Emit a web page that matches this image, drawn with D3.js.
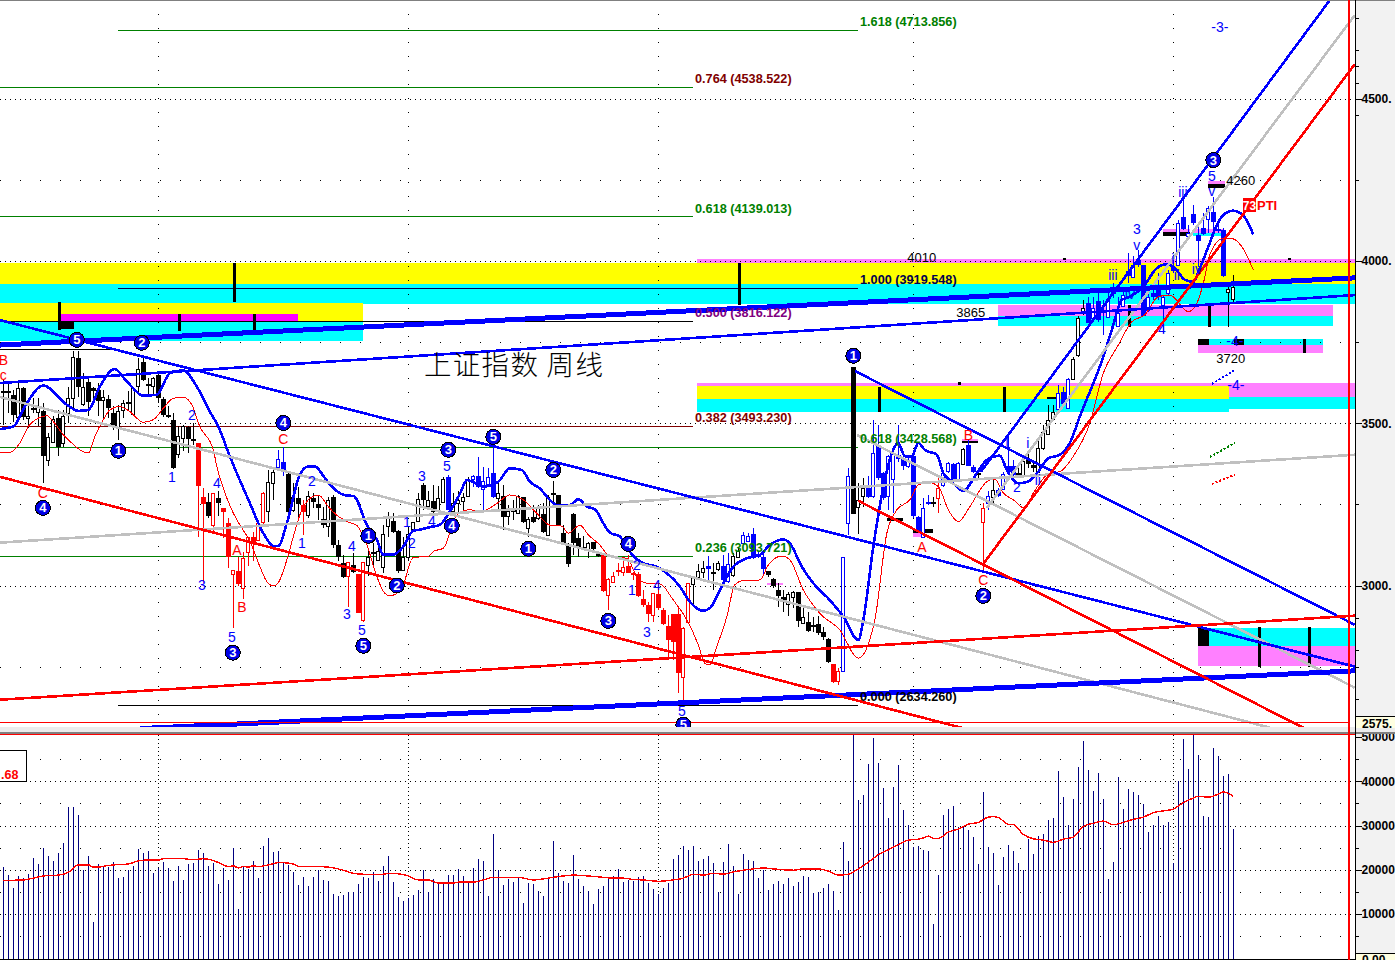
<!DOCTYPE html>
<html><head><meta charset="utf-8">
<script src="https://cdn.jsdelivr.net/npm/d3@7/dist/d3.min.js"></script>
<style>html,body{margin:0;padding:0;background:#fff;overflow:hidden}svg{display:block}</style>
</head><body><div id="chart"></div>
<script>
const opens=[3598,3598,3588,3521,3610,3516,3546,3533,3538,3387,
3444,3516,3439,3534,3579,3701,3562,3627,3608,3603,
3572,3574,3531,3490,3541,3564,3528,3615,3690,3620,
3615,3649,3574,3525,3511,3408,3452,3488,3452,3439,
3272,3257,3185,3269,3240,3192,3036,3046,2992,3103,
3151,3143,3197,3228,3315,3364,3382,3344,3233,3269,
3249,3218,3269,3252,3204,3184,3274,3125,3069,3028,
3064,3036,2892,3062,3103,3077,3056,3182,3199,3169,
3050,3087,3172,3197,3310,3243,3259,3231,3259,3334,
3228,3254,3261,3276,3328,3337,3299,3310,3346,3269,
3276,3217,3233,3225,3272,3176,3210,3207,3220,3158,
3286,3279,3161,3127,3219,3145,3120,3112,3133,3099,
3094,2969,3010,3048,3043,3060,3038,3036,2957,2940,
2909,2974,2925,2875,2912,2912,2717,2887,3004,3027,
3043,3061,3042,3050,3060,3012,3032,3086,3132,3140,
3159,3096,3089,3044,3019,2986,2966,2942,2966,2979,
2887,2889,2878,2881,2856,2835,2757,2707,2735,3194,
3673,3241,3274,3300,3274,3434,3346,3274,3328,3403,
3392,3369,3398,3211,3151,3256,3256,3272,3308,3354,
3375,3326,3375,3434,3365,3346,3195,3254,3274,3295,
3298,3369,3367,3347,3341,3389,3372,3348,3423,3469,
3513,3543,3596,3546,3637,3711,3844,3870,3824,3877,
3849,3826,3906,3798,3860,3970,3952,4003,3988,3847,
3901,3911,3862,3901,3983,3988,4135,4075,4145,4080,
4101,4129,4152,4100,4094,3904,3882];
const closes=[3593,3593,3526,3610,3519,3523,3541,3549,3398,3459,
3514,3426,3521,3579,3704,3613,3613,3567,3598,3570,
3582,3546,3490,3539,3562,3560,3608,3667,3632,3617,
3639,3579,3524,3522,3362,3462,3490,3452,3449,3308,
3251,3213,3285,3254,3226,3087,3048,3004,3084,3149,
3131,3194,3285,3318,3349,3389,3356,3228,3272,3251,
3228,3277,3257,3238,3185,3264,3125,3089,3026,3071,
3041,2915,3072,3087,3100,3105,3158,3208,3166,3046,
3089,3158,3195,3266,3264,3262,3225,3269,3329,3233,
3254,3262,3272,3327,3338,3305,3323,3333,3272,3284,
3212,3231,3231,3276,3197,3204,3197,3238,3164,3274,
3284,3186,3130,3065,3132,3118,3114,3132,3112,3091,
2983,3019,3030,3042,3058,3040,3032,2969,2940,2911,
2976,2930,2881,2832,2827,2729,2868,3007,3027,3046,
3055,3050,3040,3070,3017,3065,3091,3106,3156,3154,
3084,3087,3051,3033,2997,2969,2950,2974,2981,2892,
2904,2861,2871,2855,2842,2765,2704,2738,3087,3338,
3220,3262,3300,3272,3408,3331,3269,3398,3408,3390,
3367,3387,3213,3166,3240,3253,3253,3302,3346,3379,
3326,3377,3420,3369,3351,3342,3238,3277,3295,3277,
3343,3351,3341,3345,3385,3375,3362,3423,3472,3511,
3534,3593,3559,3636,3698,3824,3856,3810,3854,3818,
3839,3882,3901,3839,3895,3954,3988,3988,3831,3888,
3890,3888,3888,3962,3970,4118,4098,4085,4116,4063,
4082,4162,4121,4096,3954,3913,3919];
const highs=[3634,3623,3603,3623,3613,3562,3577,3577,3562,3469,
3521,3541,3541,3613,3723,3723,3654,3644,3613,3623,
3603,3588,3552,3557,3572,3598,3613,3701,3706,3639,
3644,3654,3582,3552,3531,3492,3495,3492,3500,3439,
3300,3285,3285,3290,3240,3208,3048,3089,3102,3151,
3166,3197,3287,3356,3362,3418,3428,3346,3315,3305,
3264,3290,3285,3279,3243,3274,3279,3141,3095,3071,
3100,3036,3072,3115,3131,3131,3187,3225,3223,3172,
3151,3182,3197,3285,3315,3290,3310,3308,3334,3341,
3285,3290,3286,3335,3341,3397,3366,3361,3423,3315,
3310,3248,3264,3279,3274,3212,3248,3248,3253,3279,
3322,3279,3186,3130,3222,3161,3153,3135,3135,3104,
3094,3022,3043,3068,3079,3094,3043,3043,2986,2950,
2978,3007,2930,2909,2912,2930,2871,3007,3027,3066,
3074,3091,3068,3074,3094,3099,3099,3120,3166,3161,
3176,3104,3104,3046,3022,3007,2986,2981,2984,2981,
2935,2919,2904,2906,2873,2837,2757,2745,3087,3362,
3673,3315,3331,3336,3511,3495,3351,3403,3418,3495,
3408,3398,3398,3213,3269,3279,3274,3336,3356,3382,
3377,3382,3423,3449,3372,3362,3254,3290,3328,3300,
3351,3459,3387,3367,3398,3418,3387,3459,3495,3557,
3557,3618,3613,3639,3705,3829,3880,3890,3890,3901,
3880,3901,3931,3890,3921,4024,4014,4034,3988,3921,
3931,3962,3895,3972,4019,4127,4198,4111,4173,4116,
4147,4168,4198,4127,4101,3936,3957];
const lows=[3495,3531,3505,3511,3511,3485,3531,3490,3315,3369,
3439,3398,3428,3500,3541,3582,3552,3521,3562,3521,
3511,3516,3480,3449,3516,3541,3521,3588,3629,3588,
3588,3562,3519,3516,3360,3394,3413,3408,3433,3151,
3007,3208,3166,3213,3146,3054,2869,2997,2958,3059,
3074,3136,3184,3197,3264,3364,3338,3223,3228,3202,
3156,3208,3238,3202,3177,3151,3115,3074,3023,2935,
3038,2915,2889,3028,3059,3074,3038,3151,3161,3038,
3048,3079,3166,3195,3233,3238,3221,3223,3254,3233,
3218,3228,3233,3272,3305,3299,3228,3305,3269,3233,
3171,3186,3202,3222,3194,3151,3192,3202,3161,3156,
3248,3183,3125,3056,3094,3089,3109,3084,3109,3087,
2981,2925,3007,3029,3029,3038,3017,2966,2935,2887,
2889,2925,2878,2771,2771,2668,2637,2884,2940,3022,
3022,3017,2986,3046,3007,3007,3027,3084,3128,3135,
3081,3084,3036,3027,2991,2935,2919,2906,2930,2873,
2881,2858,2858,2848,2832,2762,2699,2694,2735,3156,
3220,3158,3243,3269,3269,3326,3264,3233,3223,3382,
3356,3362,3208,3161,3146,3249,3243,3223,3305,3346,
3321,3321,3372,3367,3346,3326,3048,3233,3254,3274,
3295,3346,3326,3336,3336,3362,3351,3346,3418,3464,
3511,3541,3552,3544,3634,3705,3834,3808,3818,3813,
3772,3824,3885,3796,3860,3931,3947,3983,3829,3844,
3880,3880,3777,3895,3962,3985,4096,4070,4111,3983,
4080,4085,4085,4085,3952,3796,3875];
const waveRuns=[[0,'k'],[39,'r'],[41,'k'],[42,'r'],[43,'k'],[44,'r'],[53,'k'],[55,'b'],[57,'k'],[60,'r'],[61,'k'],[69,'r'],[70,'k'],[71,'r'],[73,'k'],[89,'b'],[90,'k'],[94,'b'],[99,'k'],[120,'r'],[138,'k'],[141,'b'],[142,'k'],[144,'b'],[146,'k'],[148,'b'],[153,'k'],[166,'r'],[168,'b'],[170,'k'],[173,'b'],[186,'k'],[187,'r'],[188,'b'],[192,'k'],[193,'b'],[195,'k'],[196,'r'],[197,'b'],[198,'k'],[199,'b'],[203,'k'],[211,'b'],[214,'k'],[217,'b'],[245,'k']];
const volumes=[20700,18900,15900,18600,18200,19100,22700,21400,25000,23200,22000,23800,26100,34200,34200,32400,20000,23200,8300,21400,20700,20700,21800,18200,18400,20000,20900,24700,23800,24300,19300,20500,21800,20500,17500,20900,17700,21400,21600,24500,23800,20900,21600,16800,20500,17700,25000,11200,20700,20200,22000,18200,25400,27200,24100,24300,21800,21100,19500,16600,18400,16400,18400,20000,17700,17500,14600,14100,14400,15000,15000,16800,18400,18200,19500,17500,20900,23200,17300,13900,13000,13700,14400,15500,20000,15000,18000,17300,17300,18900,18900,20200,
18600,17100,20500,22500,22000,14100,28100,20000,16600,18000,17300,18200,12600,17100,16800,15300,14100,18400,26500,19300,17500,17100,23400,18000,16400,15300,12300,15700,16400,18000,18600,20200,17300,17700,17500,18400,18600,17100,15700,14600,15900,17100,22500,23400,25400,24500,25400,22000,22500,23200,21600,15000,21800,25900,20900,14600,23600,22300,22000,18200,20000,15500,16800,17500,16800,18200,16400,17300,18600,18400,14800,15000,15900,16800,15300,11000,26300,22000,50700,35800,36900,43900,49800,44100,38500,31700,38700,43700,33500,30200,25200,25400,
24500,24300,7800,18900,32400,33800,34400,29700,29700,29000,27400,21400,37600,25200,23800,16600,22900,25600,24300,21600,20000,27000,23600,27700,28100,31300,31700,42300,36500,30200,36000,43200,49100,42600,37800,41900,36000,18000,21800,41000,33800,38300,37600,36900,34900,28600,30200,32200,30200,30800,21600,40100,49600,42800,50700,45900,32200,32000,47500,45700,41200,41700,29200];
const volMaBars=[0,4,6,8,11,13,15,17,18,19,20,22,25,27,29,31,32,35,38,40,42,44,45,46,47,48,49,50,51,53,55,56,58,59,61,65,68,70,72,76,77,78,81,83,85,87,90,91,94,96,98,103,106,110,112,114,117,120,122,124,126,128,131,134,136,138,140,142,144,146,148,150,152,154,158,160,163,165,167,169,171,173,175,177,179,181,183,184,185,186,187,189,191,193,195,197,198,199,201,202,204,206,208,210,212,214,216,218,220,222,224,226,228,230,232,234,236,238,239,241,243,244,246];
const volMaValues=[17600,17700,18100,18600,18800,19400,21100,21100,20600,20600,20800,21100,21300,22000,22200,22200,22500,22600,22300,22500,22100,21100,20700,20900,20400,20800,20600,20900,20700,21100,21600,21600,21300,20800,20800,20600,19900,19200,19000,19000,19200,19200,18600,17700,17700,17000,17000,17200,17200,17700,18300,18300,17700,18300,18600,18800,18600,18300,18100,18100,17800,17700,17400,17700,18100,19000,18800,19200,19000,19500,19900,20200,20400,20200,19900,20200,20200,19700,18800,19000,20200,21700,23400,24500,25700,26700,26900,27200,27600,27100,27100,28500,29200,30300,30700,31900,32000,31800,30300,30200,28000,27000,26700,26200,26900,27400,29800,30500,31000,30200,30700,31400,31900,32900,33300,33700,35200,36200,36600,36400,37100,37600,36600];
const blueMaBars=[-0.7,2,4.3,8,12.7,15,17,19.3,22.3,24.7,28,30.7,33.3,36,38.7,41.3,43,45.3,49.3,52,54,55,56.7,59.3,61,62.3,64.3,66,68.7,70,72.7,74.7,76,78,80,82,83.3,85.3,87.3,89.3,91.3,92.7,96,99,101.3,103.7,105.3,107.3,109.3,110.7,113.3,115,116.7,118.3,120,121.3,123.3,125.3,128,130.7,132.7,135.3,137.3,140,141.3,144,146,148.7,151.3,153.3,156,157.3,159.7,162,165.3,168,171,172,174,176.3,177.7,179,180.3,181.7,183,184.3,186.7,188,189.3,192,194.7,196.7,199.3,200.7,203,205,207,209,211.3,213.3,215.3,220,221.7,223.7,225.3,228,230.7,232.7,234.3,236.3,238,239.3,241,242.7,244,246,247.7,250];
const blueMaValues=[3482,3490,3552,3616,3557,3538,3541,3613,3667,3629,3585,3588,3654,3663,3613,3536,3490,3398,3254,3161,3122,3122,3192,3341,3367,3367,3331,3300,3277,3276,3187,3141,3095,3095,3120,3169,3172,3180,3187,3228,3282,3325,3305,3320,3361,3356,3320,3299,3264,3248,3248,3266,3243,3235,3192,3163,3151,3104,3068,3058,3038,2997,2950,2922,2930,3007,3058,3084,3094,3125,3142,3130,3058,3007,2955,2904,2832,2894,3120,3326,3408,3439,3398,3398,3439,3418,3403,3346,3326,3292,3346,3387,3400,3356,3315,3321,3351,3392,3403,3439,3521,3705,3788,3880,3890,3921,3978,3990,3978,3942,3936,3978,4044,4111,4142,4155,4145,4082];
const redMaBars=[-0.7,1.3,3.3,5,7,8.7,10,12,13.7,15.3,17,18.3,20,21.3,23.3,25.3,28,30,32,34,36,37.7,39.3,42,42.7,44,46,47.3,49.3,51.3,52.7,54,55,56.7,58,59.7,61,63,65,66,68.7,70.7,72.7,74.7,76,77.3,79.7,82,85,86,88,90.7,93,96,98.7,101.3,104,106.7,109.3,111.7,113,115.3,117,119.3,121.3,124.7,126.7,128.7,131.3,134,136.7,139,140.3,141.3,142.7,144.7,146.3,148,151.3,153,155.7,157.3,160,163.3,167.3,171,174.3,176.7,178.7,181.3,183,185,187,189,191,193.3,196.7,198.3,200,202,204.3,206,209.3,211.3,214,217.3,220,223,225.7,228.3,231,233.3,237,238.7,240,241.3,244,246,247.7,250];
const redMaValues=[3410,3410,3439,3490,3516,3523,3505,3464,3439,3418,3408,3459,3511,3541,3552,3536,3503,3511,3546,3577,3580,3557,3490,3418,3367,3300,3223,3187,3136,3059,3012,2999,3009,3079,3151,3233,3264,3279,3243,3226,3197,3185,3125,3028,2982,2968,2992,3087,3089,3105,3115,3217,3233,3231,3253,3279,3264,3222,3186,3183,3161,3186,3156,3125,3089,3084,3027,3007,3005,2955,2894,2817,2760,2755,2812,2904,3002,3015,3017,3063,3091,3079,2986,2914,2863,2776,2894,3161,3233,3264,3310,3318,3305,3233,3197,3243,3320,3328,3285,3264,3238,3285,3346,3351,3398,3500,3654,3741,3813,3834,3890,3895,3844,3870,3931,4019,4070,4068,4044,3972];
const fibNames=['1.618','0.764','0.618','1.000','0.500','0.382','0.618','0.236','0.000'];
const fibPrices=[4713.856,4538.522,4139.013,3919.548,3816.122,3493.230,3428.568,3093.721,2634.260];
const fibTones=['g','g','g','n','k','m','g','g','k'];
const fibTextTones=['g','m','g','n','p','m','g','g','k'];
const fibStarts=[23,-0.7,-0.7,23,-0.7,-0.7,-0.7,-0.7,23];
const fibEnds=[171,138,138,171,138,138,171,138,171];
const trendKinds=['B','B','b','b','b','b','s','s','s','s','r','r','r','r'];
const trendBar1=[-0.7,27.3,-0.7,-0.7,170.3,195.5,-0.7,-0.7,170.7,196.7,-0.7,-0.7,171,196];
const trendVal1=[3741,2559,3624,3818,3661,3350,3132,3581,3464,3239,3335,2648,3261,3067];
const trendBar2=[270.3,270.3,270.3,270.3,270.3,265.3,270.3,253.3,270.3,270.3,192.3,270.3,260.3,270.3];
const trendVal2=[3948,2737,3895,2750,2879,4804,3403,2562,2685,4758,2559,2907,2559,4607];
const zoneTones=['y','c','p','y','c','m','p','c','c','p','p','y','c','p','c','c','p','p','c','k','k','k','k','k','k','k','k','k','k','p','p','p','p','p','k'];
const zoneBar1=[-0.7,-0.7,138.7,-0.7,-0.7,11,199,199,239,239,138.7,138.7,138.7,245.1,245.1,239,239,238,238,11,239,246.1,239,232,241,176.7,182,191.7,208.7,241,232,182,191.7,152.7,-0.7];
const zoneBar2=[270.3,270.3,270.3,72,72,59,266,266,264,264,245.1,245.1,245.1,270.3,270.3,270.3,270.3,244,244,14.1,241.1,248.1,241.1,237.3,244.3,180,186,195,211.3,244.3,237.3,184,195,156,21.5];
const zoneTop=[3994,3929,4006,3871,3812,3837,3865,3831,3760,3741,3624,3615,3575,3624,3581,2870,2814,4099,4087,3812,3760,3760,2870,4089,4237,3209,3175,3446,3581,4247,4099,3162,3452,3008,3729];
const zoneBottom=[3929,3868,3994,3812,3753,3815,3831,3800,3741,3717,3615,3575,3535,3581,3544,2814,2753,4087,4077,3791,3741,3741,2814,4077,4225,3199,3162,3440,3575,4237,4089,3150,3446,3002,3725];
const stickBars=[46,147,11,35,50,175,200,225,241,260,251,261,191,212,257];
const stickTop=[3994,3994,3874,3837,3837,3612,3612,3865,3865,3760,2873,2873,3627,4010,4010];
const stickBottom=[3874,3865,3788,3785,3785,3535,3535,3797,3797,3717,2750,2750,3618,4003,4003];
const circleTexts=['5','2','1','4','4','3','5','1','2','3','4','5','2','1','3','4','5','1','2','3'];
const circleBars=[14.7,27.7,23,7.9,56,45.9,72,73,78.7,89,89.7,98,110,105,121,125,136,170,196,242];
const circleVals=[3757,3748,3415,3239,3501,2793,2814,3153,3000,3418,3184,3458,3356,3113,2891,3128,2571,3708,2968,4311];
const blueTexts=['1','2','3','4','5','2','1','3','4','5','3','5','1','2','4','2','1','4','3','5','i','ii','2','1','3','v','iii','iii','i','ii','iv','iv','4','5','v','-4-','-4-','-3-'];
const blueBars=[33.7,37.7,39.7,42.7,45.7,61.7,59.7,68.7,69.7,71.7,83.7,88.7,80.7,81.7,85.7,126.7,125.7,130.7,128.7,135.7,204.9,206.9,202.7,200.7,226.7,226.7,221.9,235.9,233.9,234.7,238.7,225.3,231.7,241.7,241.7,246.3,246.5,243.3];
const blueVals=[3335,3526,3002,3316,2842,3323,3132,2913,3122,2864,3338,3369,3196,3132,3199,3064,2987,3002,2857,2614,3440,3326,3304,3440,4099,4049,3957,4213,4006,3957,3975,3898,3791,4262,4216,3754,3618,4721];
const redTexts=['B','c','C','C','A','B','B','A','C'];
const redBars=[0,0,7.9,56,46.7,47.7,193,183.7,196];
const redVals=[3695,3649,3286,3452,3110,2934,3464,3119,3018];
const blackTexts=['4260','4010','3865','3720'];
const blackBars=[247.5,183.7,193.5,245.5];
const blackVals=[4250,4012,3843,3701];
const hatchTones=['b','g','r'];
const hatchBar1=[241.7,241.3,241.7];
const hatchVal1=[3621,3396,3313];
const hatchBar2=[246.3,246.3,246.3];
const hatchVal2=[3664,3439,3341];
const priceTicks=[4500,4000,3500,3000];
const priceMinor=[4750,4650,4600,4550,4450,4250,3750,3250,2900,2800,2750,2650];
const priceMajorGrid=[4500,4000,3500,3000];
const priceMinorGrid=[4250,3750,3250,2750];
const volTicks=[50000,40000,30000,20000,10000];
const volMinor=[45000,35000,25000,15000,5000];
const gridBars=[31,81,131,182,234];

const W=1395,H=960,axisX=1355,redX=1348;
const FONT='"Liberation Sans",Arial,sans-serif';
const ink={k:'#000',n:'#000050',r:'#ff0000',b:'#0000ff',g:'#008000',m:'#800000',p:'#800080',s:'#c0c0c0',B:'#0000ff'};
const zoneInk={y:'#ffff00',c:'#00ffff',p:'#ff80ff',m:'#ff00ff',k:'#000'};
const toneOf=i=>{let t='k';for(const [s,v] of waveRuns){if(i>=s)t=v;else break;}return t;};

const x=d3.scaleLinear().domain([0,246]).range([3.33,1233.33]);
const y=d3.scaleLinear().domain([4000,3000]).range([261,585.5]);
const v=d3.scaleLinear().domain([0,50000]).range([958.3,737]);
const col=i=>Math.floor(x(i))+.5;

const svg=d3.select('#chart').append('svg').attr('width',W).attr('height',H).attr('viewBox',`0 0 ${W} ${H}`)
  .style('font-family',FONT).attr('shape-rendering','crispEdges');
const defs=svg.append('defs');
defs.append('clipPath').attr('id','priceClip').append('rect').attr('x',0).attr('y',0).attr('width',axisX).attr('height',727);
defs.append('clipPath').attr('id','volClip').append('rect').attr('x',0).attr('y',735).attr('width',axisX).attr('height',224);

svg.append('rect').attr('x',axisX).attr('y',0).attr('width',W-axisX).attr('height',H).attr('fill','#f2f2f2');
const pane=svg.append('g').attr('clip-path','url(#priceClip)');

pane.append('g').selectAll('rect').data(zoneTones.map((t,i)=>i)).join('rect')
  .attr('x',i=>x(zoneBar1[i])).attr('width',i=>x(zoneBar2[i])-x(zoneBar1[i]))
  .attr('y',i=>y(zoneTop[i])).attr('height',i=>y(zoneBottom[i])-y(zoneTop[i]))
  .attr('fill',i=>zoneInk[zoneTones[i]]);

const gridG=pane.append('g').attr('stroke','#000').attr('stroke-width',1);
gridG.selectAll('.gh').data(priceMajorGrid).join('line').attr('x1',0).attr('x2',axisX)
  .attr('y1',d=>Math.round(y(d))+.5).attr('y2',d=>Math.round(y(d))+.5).attr('stroke-dasharray','1 4');
gridG.selectAll('.gm').data(priceMinorGrid).join('line').attr('x1',0).attr('x2',axisX)
  .attr('y1',d=>Math.round(y(d))+.5).attr('y2',d=>Math.round(y(d))+.5).attr('stroke-dasharray','1 19');
gridG.selectAll('.gv').data(gridBars).join('line').attr('y1',0).attr('y2',727)
  .attr('x1',d=>col(d)).attr('x2',d=>col(d)).attr('stroke-dasharray','1 13');

pane.append('g').selectAll('line').data(fibPrices.map((d,i)=>i)).join('line')
  .attr('x1',i=>x(fibStarts[i])).attr('x2',i=>x(fibEnds[i]))
  .attr('y1',i=>Math.ceil(y(fibPrices[i]))+.5).attr('y2',i=>Math.ceil(y(fibPrices[i]))+.5)
  .attr('stroke',i=>ink[fibTones[i]]).attr('stroke-width',1);

pane.append('g').selectAll('rect').data(stickBars.map((d,i)=>i)).join('rect')
  .attr('x',i=>col(stickBars[i])-1).attr('width',3)
  .attr('y',i=>y(stickTop[i])).attr('height',i=>y(stickBottom[i])-y(stickTop[i])).attr('fill','#000');

const cIdx=d3.range(opens.length);
const cG=pane.append('g');
cG.selectAll('.w').data(cIdx).join('line').attr('x1',col).attr('x2',col)
  .attr('y1',i=>y(highs[i])).attr('y2',i=>y(lows[i])).attr('stroke',i=>ink[toneOf(i)]).attr('stroke-width',1);
cG.selectAll('.f').data(cIdx.filter(i=>closes[i]<=opens[i])).join('rect')
  .attr('x',i=>col(i)-2.5).attr('width',5).attr('y',i=>y(opens[i]))
  .attr('height',i=>Math.max(2,y(closes[i])-y(opens[i]))).attr('fill',i=>ink[toneOf(i)]);
cG.selectAll('.h').data(cIdx.filter(i=>closes[i]>opens[i])).join('rect')
  .attr('x',i=>col(i)-2).attr('width',3).attr('y',i=>Math.round(y(closes[i]))+.5)
  .attr('height',i=>Math.max(1,Math.round(y(opens[i])-y(closes[i]))))
  .attr('fill','#fff').attr('stroke',i=>ink[toneOf(i)]).attr('stroke-width',1);

const maLine=d3.line().x(d=>x(d[0])).y(d=>y(d[1])).curve(d3.curveMonotoneX);
pane.append('path').attr('d',maLine(blueMaBars.map((b,i)=>[b,blueMaValues[i]])))
  .attr('fill','none').attr('stroke','#0000ff').attr('stroke-width',2.6);
pane.append('path').attr('d',maLine(redMaBars.map((b,i)=>[b,redMaValues[i]])))
  .attr('fill','none').attr('stroke','#ff0000').attr('stroke-width',1);

const trendWidth={B:5,b:2.6,s:2.6,r:2.6};
pane.append('g').selectAll('line').data(trendKinds.map((d,i)=>i).sort((a,b)=>(trendKinds[a]==='s'?-1:0)-(trendKinds[b]==='s'?-1:0))).join('line')
  .attr('x1',i=>x(trendBar1[i])).attr('x2',i=>x(trendBar2[i]))
  .attr('y1',i=>y(trendVal1[i])).attr('y2',i=>y(trendVal2[i]))
  .attr('stroke',i=>ink[trendKinds[i]]).attr('stroke-width',i=>trendWidth[trendKinds[i]]);

pane.append('g').selectAll('line').data(hatchTones.map((d,i)=>i)).join('line')
  .attr('x1',i=>x(hatchBar1[i])).attr('x2',i=>x(hatchBar2[i]))
  .attr('y1',i=>y(hatchVal1[i])).attr('y2',i=>y(hatchVal2[i]))
  .attr('stroke',i=>ink[hatchTones[i]]).attr('stroke-width',2).attr('stroke-dasharray','2 2');

pane.append('line').attr('x1',0).attr('x2',redX).attr('y1',Math.round(y(2575))-.5).attr('y2',Math.round(y(2575))-.5).attr('stroke','#ff0000');

const txt=svg.append('g').attr('clip-path','url(#priceClip)');
txt.selectAll('.fib').data(fibPrices.map((d,i)=>i)).join('text')
  .attr('x',i=>fibEnds[i]===171?860:695).attr('y',i=>y(fibPrices[i])-3.2)
  .attr('font-size',12.7).attr('font-weight','bold').attr('fill',i=>ink[fibTextTones[i]])
  .text(i=>`${fibNames[i]} (${fibPrices[i].toFixed(3)})`);
function labels(texts,bars,vals,fill,size,weight){
  txt.append('g').selectAll('text').data(texts.map((d,i)=>i)).join('text')
   .attr('x',i=>x(bars[i])).attr('y',i=>y(vals[i])+size*.36).attr('text-anchor','middle')
   .attr('font-size',size).attr('font-weight',weight).attr('fill',fill).text(i=>texts[i]);
}
labels(blueTexts,blueBars,blueVals,'#0000ff',14,'normal');
labels(redTexts,redBars,redVals,'#ff0000',14,'normal');
labels(blackTexts,blackBars,blackVals,'#000',13,'normal');
txt.append('text').attr('x',424).attr('y',375).attr('font-family','"Noto Sans CJK SC",sans-serif')
  .attr('font-size',27.5).attr('font-weight',300).attr('fill','#000').attr('letter-spacing',1.3).text('上证指数 周线');

const circ=svg.append('g').attr('clip-path','url(#priceClip)').selectAll('g').data(circleTexts.map((d,i)=>i)).join('g')
  .attr('transform',i=>`translate(${x(circleBars[i])},${y(circleVals[i])})`);
circ.append('circle').attr('r',7.5).attr('fill','#0000e6').attr('stroke','#000').attr('stroke-width',1);
circ.append('text').attr('text-anchor','middle').attr('y',4.5).attr('font-size',13).attr('font-weight','bold').attr('fill','#fff').text(i=>circleTexts[i]);

const badge=svg.append('g');
badge.append('rect').attr('x',1243).attr('y',198).attr('width',13).attr('height',14).attr('fill','#ff0000');
badge.append('text').attr('x',1249.5).attr('y',210).attr('text-anchor','middle').attr('font-size',12).attr('font-weight','bold').attr('fill','#fff').text('73');
badge.append('text').attr('x',1257).attr('y',210).attr('font-size',13).attr('font-weight','bold').attr('fill','#ff0000').text('PTI');

const vp=svg.append('g').attr('clip-path','url(#volClip)');
const vg=vp.append('g').attr('stroke','#000');
vg.selectAll('.h').data(volTicks.slice(1)).join('line').attr('x1',0).attr('x2',axisX)
  .attr('y1',d=>Math.round(v(d))+.5).attr('y2',d=>Math.round(v(d))+.5).attr('stroke-dasharray','1 4');
vg.selectAll('.m').data(volMinor).join('line').attr('x1',0).attr('x2',axisX)
  .attr('y1',d=>Math.round(v(d))+.5).attr('y2',d=>Math.round(v(d))+.5).attr('stroke-dasharray','1 19');
vg.selectAll('.v').data(gridBars).join('line').attr('y1',735).attr('y2',959)
  .attr('x1',d=>col(d)).attr('x2',d=>col(d)).attr('stroke-dasharray','1 3');
vp.append('g').selectAll('line').data(volumes.map((d,i)=>i)).join('line')
  .attr('x1',col).attr('x2',col).attr('y1',i=>v(volumes[i])).attr('y2',959)
  .attr('stroke','#000080').attr('stroke-width',1);
vp.append('path').attr('d',d3.line().x(d=>x(d[0])).y(d=>v(d[1])).curve(d3.curveMonotoneX)(volMaBars.map((b,i)=>[b,volMaValues[i]])))
  .attr('fill','none').attr('stroke','#ff0000').attr('stroke-width',1.4);

svg.append('rect').attr('x',-2).attr('y',750.5).attr('width',28.5).attr('height',31).attr('fill','#fff').attr('stroke','#000');
svg.append('text').attr('x',1).attr('y',779).attr('font-size',12.5).attr('font-weight','bold').attr('fill','#ff0000').text('.68');

svg.append('rect').attr('x',0).attr('y',727).attr('width',W).attr('height',6).attr('fill','#ececec');
svg.append('rect').attr('x',0).attr('y',732).attr('width',W).attr('height',2).attr('fill','#808080');
svg.append('rect').attr('x',0).attr('y',734).attr('width',axisX).attr('height',1.4).attr('fill','#ff0000');
svg.append('rect').attr('x',0).attr('y',959).attr('width',axisX).attr('height',1).attr('fill','#000');
svg.append('rect').attr('x',0).attr('y',0).attr('width',W).attr('height',1).attr('fill','#808080');

svg.append('rect').attr('x',redX).attr('y',0).attr('width',2).attr('height',H).attr('fill','#ff0000');

const priceAxis=svg.append('g').attr('transform',`translate(${axisX+.5},0)`)
  .call(d3.axisRight(y).tickValues(priceTicks).tickSize(6).tickPadding(0).tickFormat(d=>d+'.'));
const priceMinorAxis=svg.append('g').attr('transform',`translate(${axisX+.5},0)`)
  .call(d3.axisRight(y).tickValues(priceMinor).tickSize(3).tickFormat(''));
const volAxis=svg.append('g').attr('transform',`translate(${axisX+.5},0)`)
  .call(d3.axisRight(v).tickValues(volTicks).tickSize(6).tickPadding(0).tickFormat(d=>d));
const volMinorAxis=svg.append('g').attr('transform',`translate(${axisX+.5},0)`)
  .call(d3.axisRight(v).tickValues(volMinor).tickSize(3).tickFormat(''));
[priceAxis,priceMinorAxis,volAxis,volMinorAxis].forEach(a=>{
  a.select('.domain').remove();
  a.attr('font-family',FONT).attr('font-size',12).attr('font-weight','bold');
  a.selectAll('text').attr('fill','#000');
  a.selectAll('line').attr('stroke','#000');
});
svg.append('rect').attr('x',axisX).attr('y',0).attr('width',1).attr('height',H).attr('fill','#000');
svg.append('rect').attr('x',axisX+1).attr('y',732).attr('width',W-axisX).attr('height',2).attr('fill','#808080');

const flags=[[2575,716,12,'2575.',728],[0,953,7,'0.00',964]];
flags.forEach(f=>{
  svg.append('rect').attr('x',axisX+1).attr('y',f[1]).attr('width',W-axisX).attr('height',f[2]).attr('fill','#ffffe1');
  svg.append('rect').attr('x',axisX+1).attr('y',f[1]).attr('width',W-axisX).attr('height',1).attr('fill','#000');
  svg.append('text').attr('x',axisX+7).attr('y',f[4]).attr('font-size',12).attr('font-weight','bold').attr('fill','#000').text(f[3]);
});
</script></body></html>
